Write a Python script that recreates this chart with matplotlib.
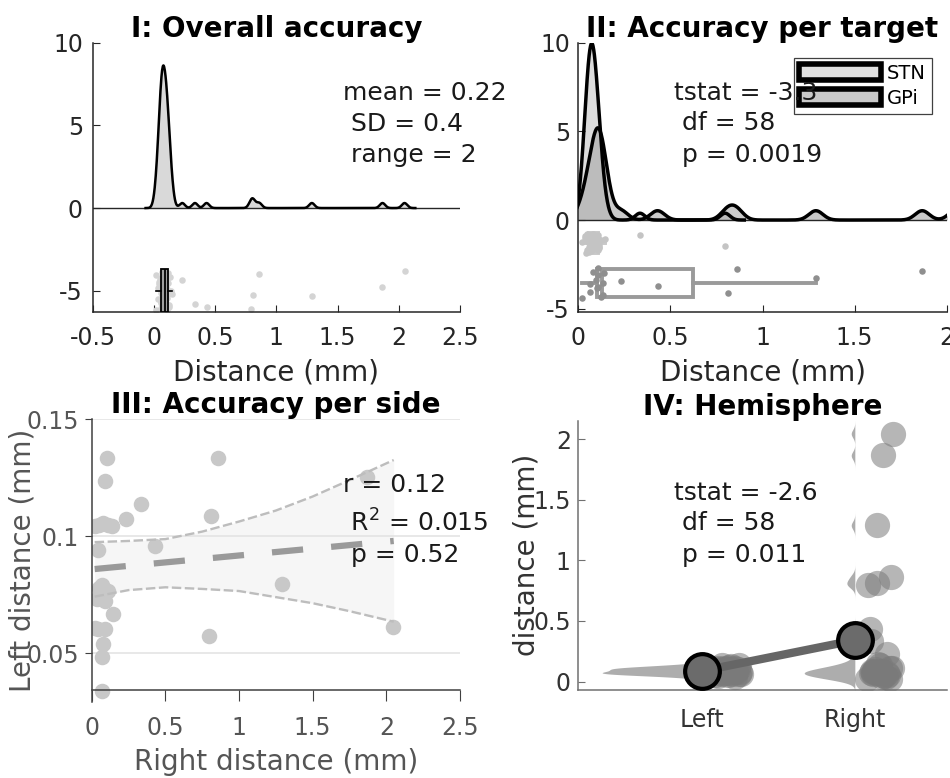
import numpy as np
import matplotlib.pyplot as plt
from matplotlib.patches import Patch
from matplotlib.ticker import FuncFormatter

plt.rcParams['font.family'] = ['DejaVu Sans']
plt.rcParams['axes.unicode_minus'] = False

# per patient: distance of right and left lead (mm), and the target
right_dist = [0.102, 0.86, 0.09, 0.335, 0.231, 0.81, 0.02, 0.05, 0.08, 0.11,
              0.14, 0.43, 0.04, 0.068, 0.113, 0.034, 0.09, 0.05, 0.147, 0.797,
              0.045, 0.09, 0.02, 0.079, 0.068, 0.068, 1.29, 2.047, 1.867, 0.06]
left_dist = [0.1335, 0.1335, 0.1236, 0.114, 0.1076, 0.1086, 0.1045, 0.105, 0.1055, 0.105,
             0.1045, 0.0957, 0.094, 0.079, 0.0768, 0.0733, 0.0725, 0.078, 0.0668, 0.0575,
             0.0604, 0.0604, 0.061, 0.054, 0.0483, 0.034, 0.0796, 0.0611, 0.1252, 0.075]
target = ['GPi', 'GPi', 'STN', 'STN', 'GPi', 'GPi', 'STN', 'STN', 'STN', 'STN',
          'GPi', 'GPi', 'STN', 'STN', 'STN', 'STN', 'STN', 'STN', 'STN', 'STN',
          'STN', 'STN', 'GPi', 'STN', 'STN', 'STN', 'GPi', 'GPi', 'GPi', 'STN']

target_names = ['STN', 'GPi']
hemi_names = ['Left', 'Right']

overall_text = ['mean = 0.22', ' SD = 0.4', ' range = 2']
target_text = ['tstat = -3.3', ' df = 58', ' p = 0.0019']
side_text = ['r = 0.12', ' R$^2$ = 0.015', ' p = 0.52']
hemi_text = ['tstat = -2.6', ' df = 58', ' p = 0.011']

# regression line and confidence band of panel III
fit_x = [0.02, 2.05]
fit_y = [0.086, 0.098]
ci_x = [0.02, 0.25, 0.5, 0.75, 1.0, 1.25, 1.5, 1.75, 2.05]
ci_upper = [0.0975, 0.098, 0.0988, 0.102, 0.1063, 0.111, 0.117, 0.124, 0.1326]
ci_lower = [0.0742, 0.077, 0.0782, 0.0775, 0.0766, 0.074, 0.0714, 0.068, 0.0635]

# kernel widths (mm) of the density curves
bw_all = 0.022
bw_target = [0.026, 0.038]
bw_hemi = [0.016, 0.032]

right_dist = np.array(right_dist)
left_dist = np.array(left_dist)
target = np.array(target)
all_dist = np.concatenate([right_dist, left_dist])
all_target = np.concatenate([target, target])
groups = [all_dist[all_target == t] for t in target_names]


def density(x, h, n=800):
    grid = np.linspace(x.min() - 4 * h, x.max() + 4 * h, n)
    z = (grid[:, None] - x[None, :]) / h
    dens = np.exp(-0.5 * z ** 2).sum(axis=1) / (len(x) * h * np.sqrt(2 * np.pi))
    return grid, dens


def box_stats(x):
    q1, med, q3 = np.percentile(x, [25, 50, 75], method='hazen')
    iqr = q3 - q1
    return dict(med=med, q1=q1, q3=q3,
                whislo=x[x >= q1 - 1.5 * iqr].min(),
                whishi=x[x <= q3 + 1.5 * iqr].max(), fliers=[])


def spread(n, lo, hi, seed=0.3):
    # fixed jitter positions
    frac = (np.arange(n) * 0.618034 + seed) % 1
    return lo + (hi - lo) * frac


W, H = 950, 778
fig = plt.figure(figsize=(W / 100, H / 100), dpi=100)


def px_box(l, t, r, b):
    return [l / W, 1 - b / H, (r - l) / W, (b - t) / H]


def stats_text(x, ys, lines):
    for y, s in zip(ys, lines):
        fig.text(x / W, 1 - y / H, s, fontsize=18, color='#1a1a1a',
                 ha='left', va='baseline', zorder=10)


fmt = FuncFormatter(lambda v, p: f'{v:g}')


def style(ax, col='#262626', lab='#262626'):
    for s in ['top', 'right']:
        ax.spines[s].set_visible(False)
    for s in ['left', 'bottom']:
        ax.spines[s].set_color(col)
        ax.spines[s].set_linewidth(1.1)
    ax.tick_params(colors=col, labelcolor=lab, labelsize=17)
    ax.xaxis.set_major_formatter(fmt)
    ax.yaxis.set_major_formatter(fmt)


# ---------- I: Overall accuracy ----------
ax1 = fig.add_axes(px_box(92.7, 42.7, 460, 311.7))
g, d = density(all_dist, bw_all)
ax1.fill_between(g, d, color='#d9d9d9', lw=0, zorder=1)
ax1.plot(g, d, color='k', lw=1.8, zorder=3)
ax1.axhline(0, color='#262626', lw=1, zorder=2)
ax1.scatter(all_dist, spread(len(all_dist), -6.2, -3.8), s=22, color='#d4d4d4',
            lw=0, zorder=2)
ax1.bxp([box_stats(all_dist)], positions=[-5], widths=2.6, orientation='horizontal',
        patch_artist=True, showfliers=False, showcaps=False, manage_ticks=False,
        boxprops=dict(facecolor='#a0a0a0', edgecolor='k', lw=1.3),
        medianprops=dict(color='k', lw=1.3), whiskerprops=dict(color='k', lw=1.2),
        zorder=3)
ax1.set_xlim(-0.5, 2.5)
ax1.set_ylim(-6.27, 10)
ax1.set_xticks([-0.5, 0, 0.5, 1, 1.5, 2, 2.5])
ax1.set_yticks([-5, 0, 5, 10])
style(ax1)
ax1.tick_params(direction='in', length=5)
ax1.tick_params(axis='x', pad=10)
ax1.tick_params(axis='y', pad=7)
ax1.set_xlabel('Distance (mm)', fontsize=20, color='#262626')
ax1.xaxis.set_label_coords(0.5, -0.175)
ax1.set_title('I: Overall accuracy', fontsize=20, fontweight='bold', pad=4)
stats_text(343, [100, 131, 161.7], overall_text)

# ---------- II: Accuracy per target ----------
ax2 = fig.add_axes(px_box(578.3, 42.7, 946.7, 311.7))
fills = ['#dcdcdc', '#a8a8a8']
alphas = [1, 0.6]
curves = []
for vals, h, fc, a in zip(groups, bw_target, fills, alphas):
    g, d = density(vals, h)
    ax2.fill_between(g, d, color=fc, alpha=a, lw=0, zorder=1)
    curves.append((g, d))
for g, d in curves:
    ax2.plot(g, d, color='k', lw=2.5, zorder=3)
ax2.axhline(0, color='#262626', lw=1, zorder=2)
box_y = [-1.3, -3.55]
box_w = [1.1, 1.63]
box_col = ['#c8c8c8', '#9a9a9a']
dot_col = ['#c4c4c4', '#8f8f8f']
dot_span = [(-1.85, -0.75), (-4.4, -2.6)]
for vals, y, w, bc, dc, (lo, hi) in zip(groups, box_y, box_w, box_col, dot_col, dot_span):
    ax2.bxp([box_stats(vals)], positions=[y], widths=w, orientation='horizontal',
            patch_artist=True, showfliers=False, showcaps=False, manage_ticks=False,
            boxprops=dict(facecolor='none', edgecolor=bc, lw=2.8),
            medianprops=dict(color=bc, lw=2.8), whiskerprops=dict(color=bc, lw=2.8),
            zorder=2)
    ax2.scatter(vals, spread(len(vals), lo, hi), s=22, color=dc, lw=0, zorder=3)
ax2.set_xlim(0, 2)
ax2.set_ylim(-5.17, 10)
ax2.set_xticks([0, 0.5, 1, 1.5, 2])
ax2.set_yticks([-5, 0, 5, 10])
style(ax2)
ax2.tick_params(direction='in', length=5)
ax2.tick_params(axis='x', pad=10)
ax2.tick_params(axis='y', pad=6)
ax2.set_xlabel('Distance (mm)', fontsize=20, color='#262626')
ax2.xaxis.set_label_coords(0.5, -0.175)
ax2.set_title('II: Accuracy per target', fontsize=20, fontweight='bold', pad=4)
handles = [Patch(facecolor=c, edgecolor='k', lw=4, label=n)
           for c, n in zip(['#e0e0e0', '#c9c9c9'], target_names)]
leg = ax2.legend(handles=handles, loc='upper right', fontsize=14,
                 bbox_to_anchor=(931.7 / W, 1 - 58 / H), bbox_transform=fig.transFigure,
                 borderaxespad=0, borderpad=0.3, handlelength=4.2, handleheight=0.85,
                 handletextpad=0.3, labelspacing=0.3, fancybox=False, framealpha=1)
leg.get_frame().set_edgecolor('#404040')
leg.get_frame().set_linewidth(0.9)
stats_text(674, [100, 130, 161.7], target_text)

# ---------- III: Accuracy per side ----------
ax3 = fig.add_axes(px_box(91.7, 419.3, 460, 701.7))
yt3 = [0.05, 0.1, 0.15]
for y in yt3:
    ax3.axhline(y, color='#e2e2e2', lw=1.1, zorder=1.5)
ax3.fill_between(ci_x, ci_lower, ci_upper, color='#f6f6f6', lw=0, zorder=1)
ax3.scatter(right_dist, left_dist, s=125, color='#c8c8c8', lw=0, zorder=2)
ax3.plot(ci_x, ci_upper, color='#bdbdbd', lw=1.7, dashes=(4, 1.5), zorder=3)
ax3.plot(ci_x, ci_lower, color='#bdbdbd', lw=1.7, dashes=(4, 1.5), zorder=3)
ax3.plot(fit_x, fit_y, color='#9a9a9a', lw=4.5, dashes=(5, 4.5), zorder=3)
ax3.set_xlim(0, 2.5)
ax3.set_ylim(0.0293, 0.15)
ax3.set_xticks([0, 0.5, 1, 1.5, 2, 2.5])
ax3.set_yticks(yt3)
style(ax3, col='#404040', lab='#555555')
ax3.spines['bottom'].set_position(('data', 0.0343))
ax3.tick_params(direction='out')
ax3.tick_params(axis='x', length=8, pad=11)
ax3.tick_params(axis='y', length=5, pad=4)
ax3.set_xlabel('Right distance (mm)', fontsize=20, color='#555555')
ax3.xaxis.set_label_coords(0.5, -0.164)
ax3.set_ylabel('Left distance (mm)', fontsize=20, color='#555555')
ax3.yaxis.set_label_coords(-0.151, 0.5)
ax3.set_title('III: Accuracy per side', fontsize=20, fontweight='bold', pad=4)
stats_text(343, [491.7, 531.7, 561.7], side_text)

# ---------- IV: Hemisphere ----------
ax4 = fig.add_axes(px_box(577.7, 420.7, 946.7, 690))
gl, dl = density(left_dist, bw_hemi[0])
gr, dr = density(right_dist, bw_hemi[1])
k = 0.65 / dl.max()
ax4.fill_betweenx(gl, 1 - k * dl, 1, color='#adadad', lw=0, zorder=1)
ax4.fill_betweenx(gr, 2 - k * dr, 2, color='#adadad', lw=0, zorder=1)
ax4.scatter(1 + spread(len(left_dist), 0.08, 0.26), left_dist, s=330,
            color='#7a7a7a', alpha=0.55, lw=0, zorder=2)
ax4.scatter(2 + spread(len(right_dist), 0.08, 0.25), right_dist, s=330,
            color='#7a7a7a', alpha=0.55, lw=0, zorder=2)
ax4.plot([1, 2], [left_dist.mean(), right_dist.mean()], color='#666666', lw=6,
         marker='o', ms=25, mfc='#6b6b6b', mec='k', mew=3, zorder=4)
ax4.set_xlim(0.19, 2.6)
ax4.set_ylim(-0.07, 2.154)
ax4.set_xticks([1, 2])
ax4.set_yticks([0, 0.5, 1, 1.5, 2])
style(ax4, col='#707070', lab='#333333')
ax4.xaxis.set_major_formatter(FuncFormatter(lambda v, p: hemi_names[int(round(v)) - 1]))
ax4.tick_params(axis='x', length=0, pad=13)
ax4.tick_params(axis='y', direction='in', length=5, pad=5)
ax4.set_ylabel('distance (mm)', fontsize=20, color='#333333')
ax4.yaxis.set_label_coords(-0.1, 0.5)
ax4.set_title('IV: Hemisphere', fontsize=20, fontweight='bold', pad=4)
stats_text(674, [500, 530, 561.7], hemi_text)

fig.savefig('out.png', dpi=100)
